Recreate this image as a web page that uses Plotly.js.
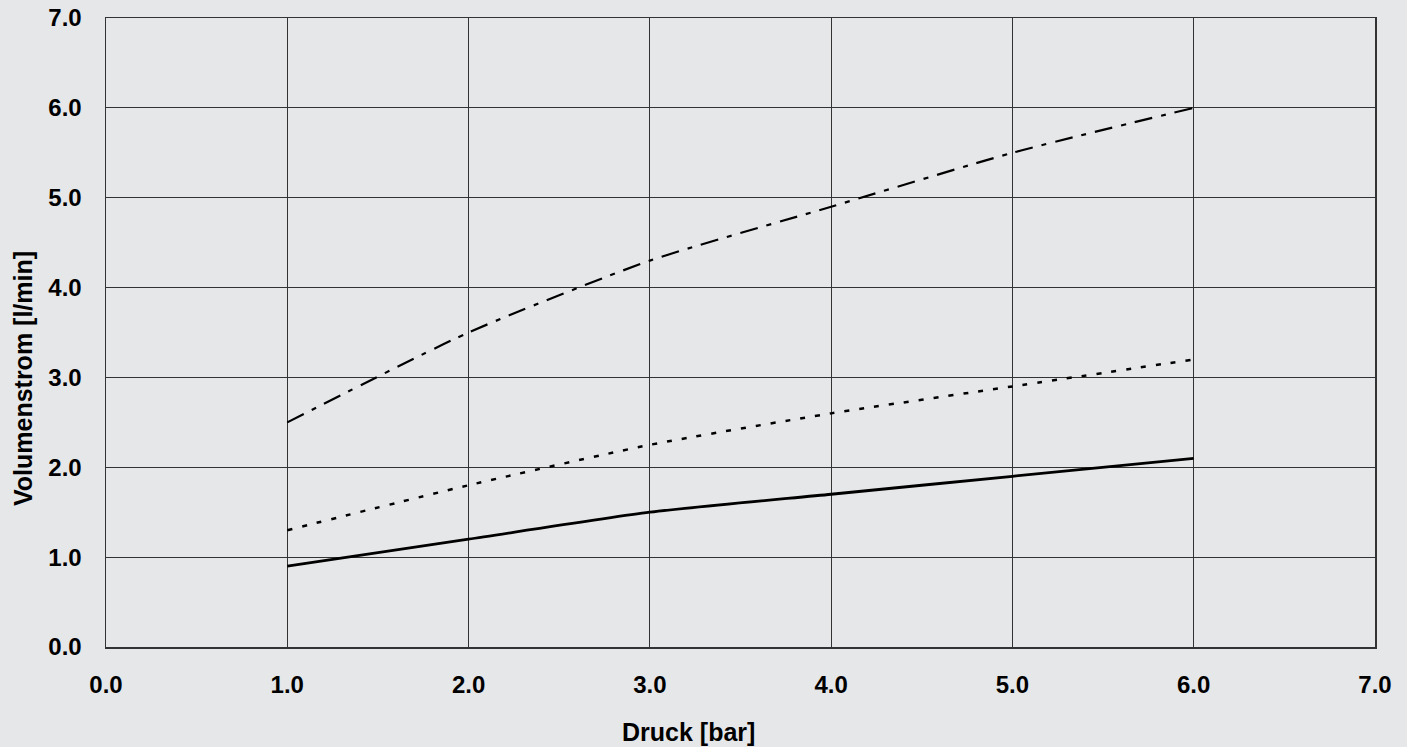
<!DOCTYPE html>
<html>
<head>
<meta charset="utf-8">
<script src="https://cdn.plot.ly/plotly-3.0.1.min.js"></script>
<style>
html,body{margin:0;padding:0;background:#e6e7e9;}
#chart{width:1407px;height:747px;}
</style>
</head>
<body>
<div id="chart"></div>
<script>
const pressure = [1.0, 2.0, 3.0, 4.0, 5.0, 6.0];
const flowHigh = [2.5, 3.5, 4.3, 4.9, 5.5, 6.0];
const flowMid  = [1.3, 1.8, 2.25, 2.6, 2.9, 3.2];
const flowLow  = [0.9, 1.2, 1.5, 1.7, 1.9, 2.1];
const tickValues = [0, 1, 2, 3, 4, 5, 6, 7];
const tickLabels = ['0.0', '1.0', '2.0', '3.0', '4.0', '5.0', '6.0', '7.0'];
const xTitle = 'Druck [bar]';
const yTitle = 'Volumenstrom [l/min]';

const traces = [
  {x: pressure, y: flowHigh, mode: 'lines', line: {color: '#000', width: 2.2, dash: '18px,9px,5px,9px', shape: 'spline', smoothing: 0.6}},
  {x: pressure, y: flowMid, mode: 'lines', line: {color: '#000', width: 2.5, dash: '5px,10px', shape: 'spline', smoothing: 0.6}},
  {x: pressure, y: flowLow, mode: 'lines', line: {color: '#000', width: 2.8, shape: 'spline', smoothing: 0.6}}
];

const tickFont = {family: 'Liberation Sans, Arial, sans-serif', size: 24, color: '#000', weight: 'bold'};
const titleFont = {family: 'Liberation Sans, Arial, sans-serif', size: 25, color: '#000', weight: 'bold'};

const layout = {
  width: 1407, height: 747,
  paper_bgcolor: '#e6e7e9',
  plot_bgcolor: '#e6e7e9',
  showlegend: false,
  margin: {l: 106, r: 32, t: 18, b: 100},
  xaxis: {
    range: [0, 7], tickvals: tickValues, ticktext: tickLabels,
    showgrid: true, gridcolor: '#333', gridwidth: 1.2,
    showline: true, linecolor: '#333', linewidth: 1.5, mirror: true,
    zeroline: false, ticks: '', tickfont: tickFont, ticklabelstandoff: 16
  },
  yaxis: {
    range: [0, 7], tickvals: tickValues, ticktext: tickLabels,
    showgrid: true, gridcolor: '#333', gridwidth: 1.2,
    showline: true, linecolor: '#333', linewidth: 1.5, mirror: true,
    zeroline: false, ticks: '', tickfont: tickFont, ticklabelstandoff: 18
  },
  annotations: [
    {text: '<b>' + xTitle + '</b>', font: titleFont, xref: 'paper', yref: 'paper',
     x: 0.4594, y: -0.135, xanchor: 'center', yanchor: 'middle', showarrow: false},
    {text: '<b>' + yTitle + '</b>', font: titleFont, xref: 'paper', yref: 'paper',
     x: -0.0654, y: 0.426, xanchor: 'center', yanchor: 'middle', textangle: -90, showarrow: false}
  ]
};

Plotly.newPlot('chart', traces, layout, {displayModeBar: false, staticPlot: true});
</script>
</body>
</html>
